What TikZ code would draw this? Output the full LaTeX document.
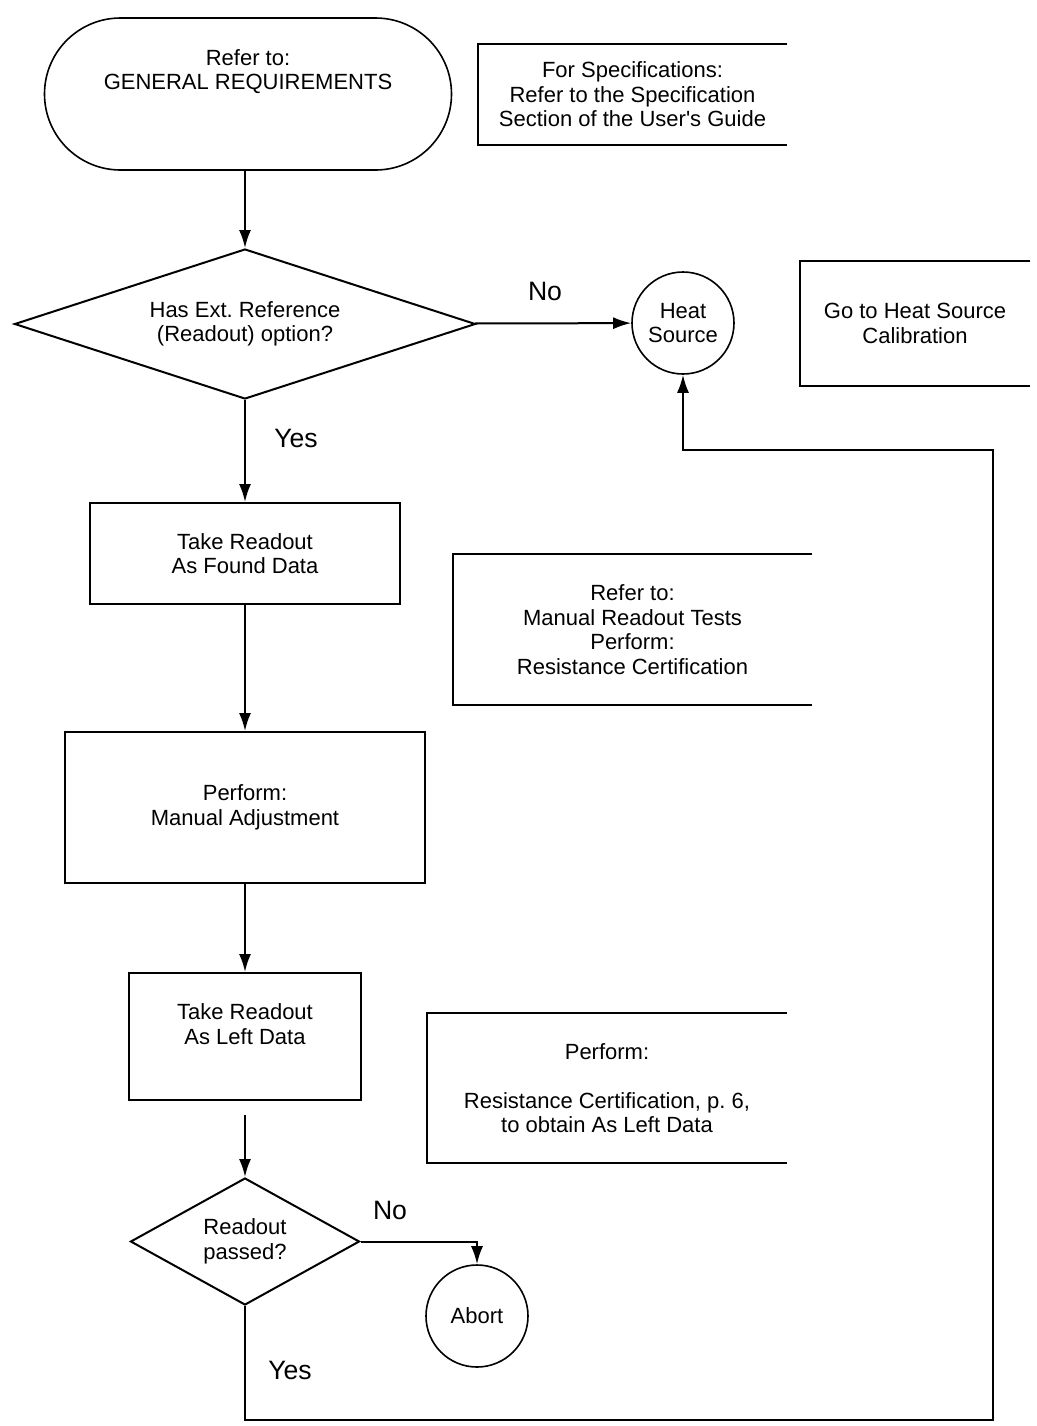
\documentclass[tikz,border=0pt]{standalone}
\usepackage{fontspec}
\setmainfont{Liberation Sans}
\usetikzlibrary{arrows.meta,shapes.geometric}
\frenchspacing

\tikzset{
  every node/.style={font=\fontsize{11}{12.25}\selectfont, align=center, inner sep=0pt},
  term/.style={draw, line width=0.8pt, rounded corners=38pt},
  box/.style={draw, line width=1pt},
  decision/.style={draw, diamond, line width=1pt},
  stop/.style={draw, circle, line width=0.8pt, minimum size=51pt},
  note/.style={draw=none},
  answer/.style={font=\fontsize{13.3}{15}\selectfont},
  arrow/.style={line width=1pt, -{Latex[length=9pt, width=6pt]}}
}

\begin{document}
\begin{tikzpicture}[x=0.5pt, y=-0.5pt]
  \useasboundingbox (0,0) rectangle (1037,1426);

  % main column
  \node[term, minimum width=203.5pt, minimum height=76pt] (start) at (248,94)
    {Refer to:\\GENERAL REQUIREMENTS\\ \mbox{}\\ \mbox{}};
  \node[decision, aspect=3.07, minimum width=230.5pt, minimum height=75pt] (ext) at (245,324)
    {Has Ext. Reference\\(Readout) option?};
  \node[box, minimum width=155pt, minimum height=50.5pt] (found) at (245,553.5)
    {Take Readout\\As Found Data};
  \node[box, minimum width=180pt, minimum height=75.5pt] (adjust) at (245,807.5)
    {Perform:\\Manual Adjustment};
  \node[box, minimum width=116pt, minimum height=63.5pt] (left) at (245,1036.5)
    {Take Readout\\As Left Data\\ \mbox{}};
  \node[decision, aspect=1.8, minimum width=114.5pt, minimum height=63.5pt] (pass) at (245,1241.5)
    {Readout\\passed?};

  % end points
  \node[stop] (heat) at (683,323) {Heat\\Source};
  \node[stop] (abort) at (477,1316) {Abort};

  % notes, open on the right
  \node[note, minimum width=154.5pt, minimum height=50.5pt] (spec) at (632.5,94.5)
    {For Specifications:\\Refer to the Specification\\Section of the User\textquotesingle s Guide};
  \node[note, minimum width=115pt, minimum height=62.5pt] (goto) at (915,323.5)
    {Go to Heat Source\\Calibration};
  \node[note, minimum width=179.5pt, minimum height=75.5pt] (refer) at (632.5,629.5)
    {Refer to:\\Manual Readout Tests\\Perform:\\Resistance Certification};
  \node[note, minimum width=180pt, minimum height=75pt] (perform) at (607,1088)
    {Perform:\\ \mbox{}\\Resistance Certification, p. 6,\\to obtain As Left Data};
  \foreach \n in {spec,goto,refer,perform} {
    \draw[line width=1pt] (\n.north east) -- (\n.north west) -- (\n.south west) -- (\n.south east);
  }

  % answers
  \node[answer] (no1) at (545,291) {No};
  \node[answer] (yes1) at (296,438) {Yes};
  \node[answer] (no2) at (390,1210) {No};
  \node[answer] (yes2) at (290,1370) {Yes};

  % connectors
  \draw[arrow] (ext.north |- start.south) -- (ext.north);
  \draw[arrow] (ext) -- (heat);
  \draw[arrow] (ext) -- (found);
  \draw[arrow] (found) -- (adjust);
  \draw[arrow] (adjust) -- (left);
  \draw[arrow, shorten <=7pt] (left) -- (pass);
  \draw[arrow] (pass.east) -| (abort.north);
  \coordinate (loopr) at (993,1420);
  \coordinate (loopt) at (993,450);
  \draw[arrow] (pass.south) |- (loopr) -- (loopt) -| (heat.south);
\end{tikzpicture}
\end{document}
